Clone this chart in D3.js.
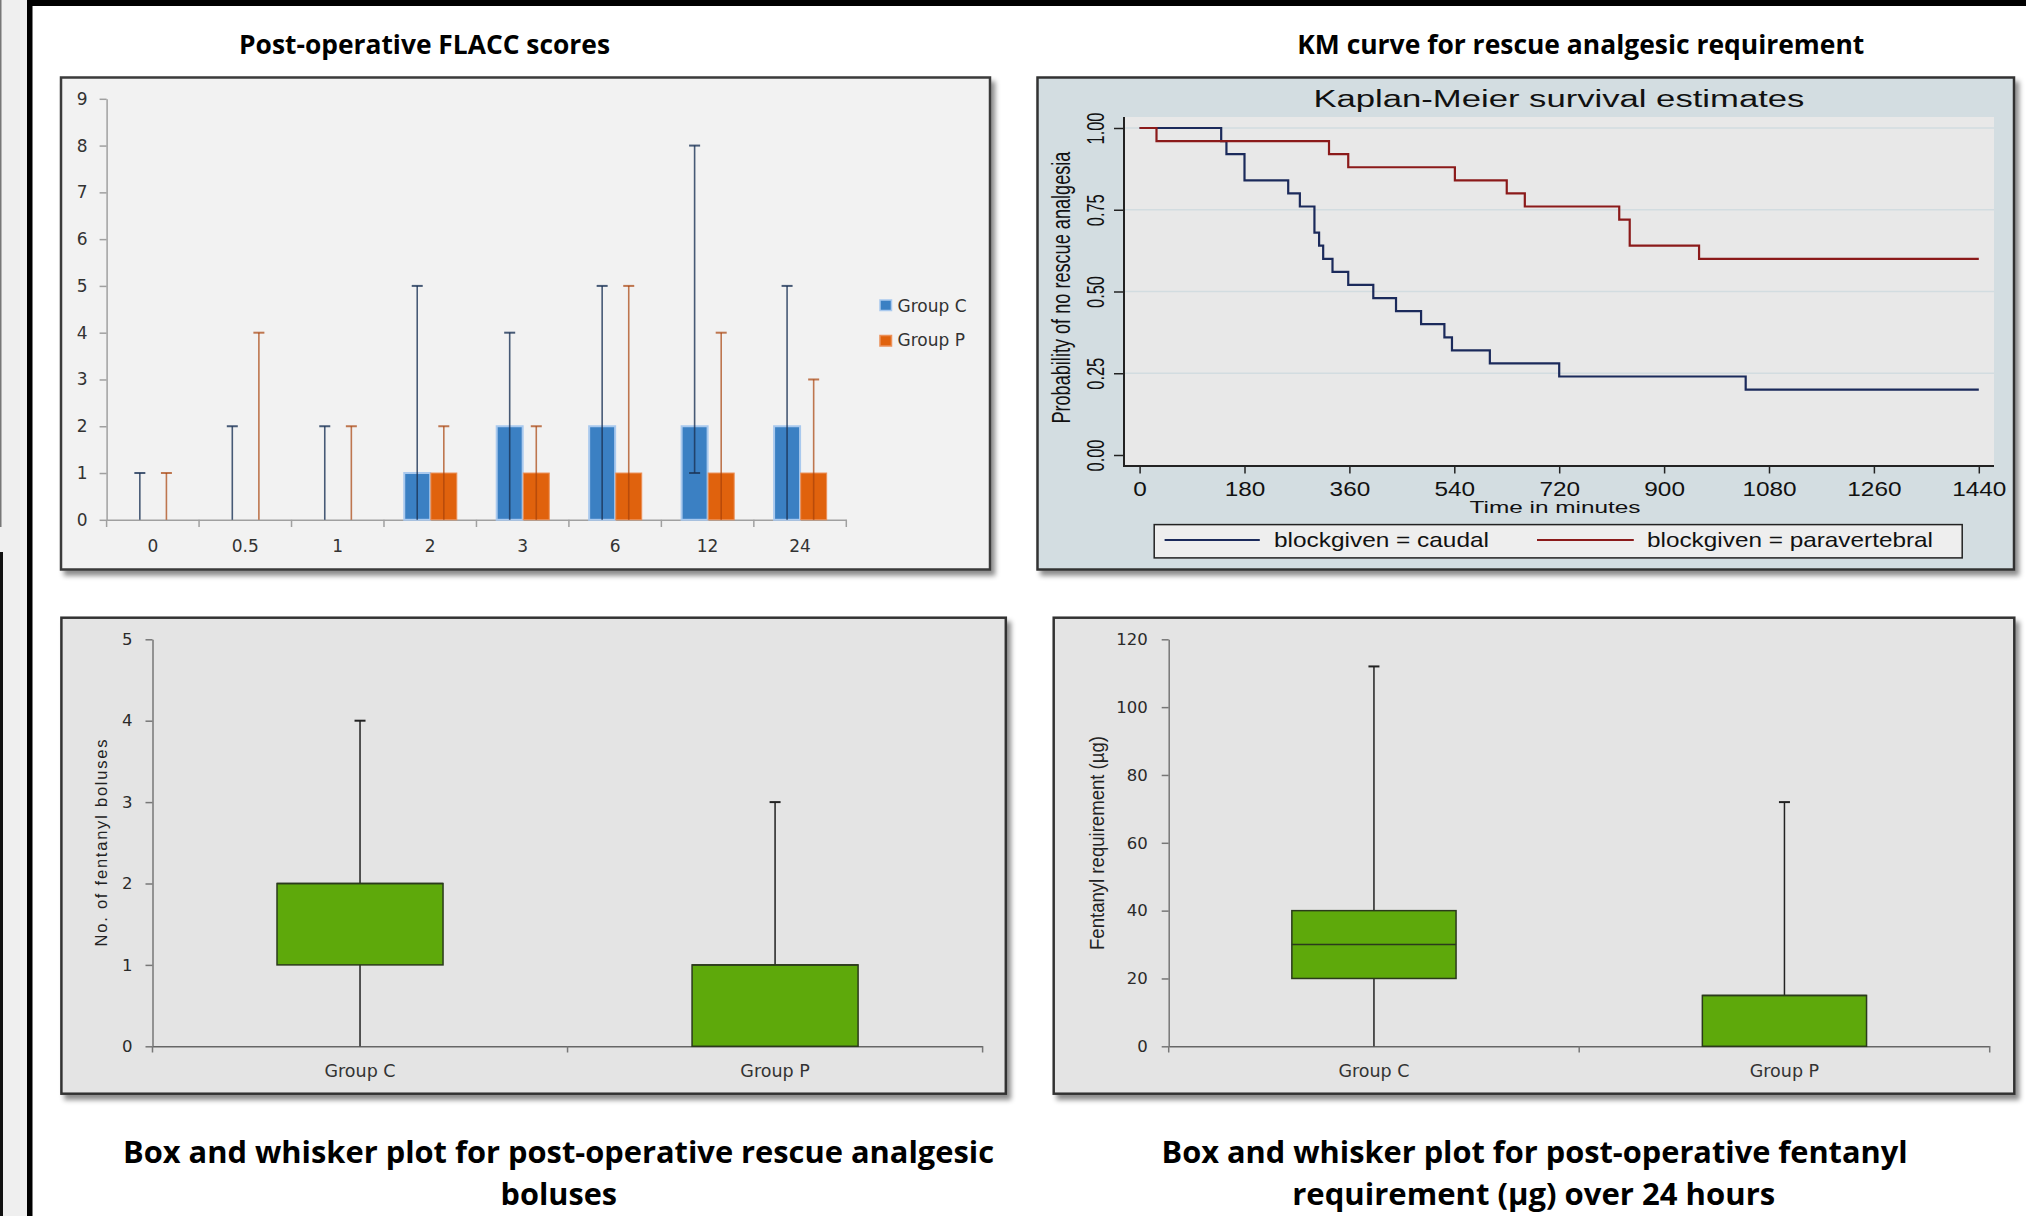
<!DOCTYPE html>
<html><head><meta charset="utf-8">
<script src="https://cdn.jsdelivr.net/npm/d3@7"></script>
<style>html,body{margin:0;padding:0;background:#fff;overflow:hidden}</style>
</head><body>
<svg id="c" width="2026" height="1216"></svg>
<script>
// ---------- DATA ----------
const flaccCats = ["0", "0.5", "1", "2", "3", "6", "12", "24"];
const flaccTicks = [0, 1, 2, 3, 4, 5, 6, 7, 8, 9];
const flaccCMedian = [0, 0, 0, 1, 2, 2, 2, 2];
const flaccCMin = [0, 0, 0, 0, 0, 0, 1, 0];
const flaccCMax = [1, 2, 2, 5, 4, 5, 8, 5];
const flaccPMedian = [0, 0, 0, 1, 1, 1, 1, 1];
const flaccPMin = [0, 0, 0, 0, 0, 0, 0, 0];
const flaccPMax = [1, 4, 2, 2, 2, 5, 4, 3];
const flaccSeries = ["Group C", "Group P"];

const kmTimeTicks = [0, 180, 360, 540, 720, 900, 1080, 1260, 1440];
const kmProbTicks = [0, 0.25, 0.5, 0.75, 1];
const caudalTime = [0, 140, 149, 180, 255, 275, 300, 308, 315, 331, 358, 401, 440, 483, 523, 536, 601, 720, 1040, 1440];
const caudalSurv = [1.00, 0.96, 0.92, 0.84, 0.80, 0.76, 0.68, 0.64, 0.60, 0.56, 0.52, 0.48, 0.44, 0.40, 0.36, 0.32, 0.28, 0.24, 0.20, 0.20];
const paraTime = [0, 29, 325, 358, 541, 630, 661, 823, 841, 960, 1440];
const paraSurv = [1.00, 0.96, 0.92, 0.88, 0.84, 0.80, 0.76, 0.72, 0.64, 0.60, 0.60];
const kmLegend = ["blockgiven = caudal", "blockgiven = paravertebral"];

const boxGroups = ["Group C", "Group P"];
const bolusTicks = [0, 1, 2, 3, 4, 5];
const bolusMin = [0, 0];
const bolusQ1 = [1, 0];
const bolusMedian = [2, 1];
const bolusQ3 = [2, 1];
const bolusMax = [4, 3];

const fentTicks = [0, 20, 40, 60, 80, 100, 120];
const fentMin = [0, 0];
const fentQ1 = [20, 0];
const fentMedian = [30, 15];
const fentQ3 = [40, 15];
const fentMax = [112, 72];

// ---------- SETUP ----------
const svg = d3.select("#c");
const defs = svg.append("defs");
const flt = defs.append("filter").attr("id", "sh").attr("x", "-3%").attr("y", "-3%").attr("width", "110%").attr("height", "112%");
flt.append("feDropShadow").attr("dx", 4).attr("dy", 5).attr("stdDeviation", 2.5).attr("flood-color", "#000").attr("flood-opacity", 0.45);

const NARROW = "'Liberation Sans Narrow','Arial Narrow','Open Sans',sans-serif";
const ARIAL = "'Liberation Sans',Arial,sans-serif";
const DEJA = "'DejaVu Sans',Verdana,sans-serif";

function fit(sel, len, mode) {
  sel.attr("textLength", len).attr("lengthAdjust", mode || "spacingAndGlyphs");
}
function scaleText(sel, k) {
  sel.each(function () {
    const w = this.getComputedTextLength();
    d3.select(this).attr("textLength", w * k).attr("lengthAdjust", "spacingAndGlyphs");
  });
}

// page decoration
svg.append("rect").attr("x", 0).attr("y", 0).attr("width", 2026).attr("height", 1216).attr("fill", "#fff");
svg.append("rect").attr("x", 0).attr("y", 0).attr("width", 27).attr("height", 1216).attr("fill", "#efefef");
svg.append("rect").attr("x", 0).attr("y", 0).attr("width", 1.5).attr("height", 527).attr("fill", "#777");
svg.append("rect").attr("x", 0).attr("y", 552).attr("width", 3).attr("height", 664).attr("fill", "#111");
svg.append("rect").attr("x", 27).attr("y", 0).attr("width", 5.5).attr("height", 1216).attr("fill", "#000");
svg.append("rect").attr("x", 27).attr("y", 0).attr("width", 1999).attr("height", 6).attr("fill", "#000");

function title(txt, cx, by, size, len) {
  const t = svg.append("text").attr("x", cx).attr("y", by).attr("text-anchor", "middle")
    .attr("font-family", NARROW).attr("font-weight", "bold").attr("font-size", size).attr("fill", "#000").text(txt);
  fit(t, len);
}

// ---------- PANEL 1: FLACC bars ----------
title("Post-operative FLACC scores", 424.5, 54.4, 27, 371);
const p1 = svg.append("g");
p1.append("rect").attr("x", 61).attr("y", 77.5).attr("width", 929).attr("height", 492)
  .attr("fill", "#f2f2f2").attr("stroke", "#3a3a3a").attr("stroke-width", 2.5).attr("filter", "url(#sh)");

const x1 = d3.scaleBand().domain(flaccCats).range([106.6, 846.3]).padding(0);
const y1 = d3.scaleLinear().domain([0, 9]).range([519.8, 98.8]);
const bw = x1.bandwidth() * 0.281;

// y axis
const ya1 = p1.append("g").attr("transform", "translate(106.6,0)")
  .call(d3.axisLeft(y1).tickValues(flaccTicks).tickFormat(d3.format("d")).tickSize(7).tickSizeOuter(0).tickPadding(12));
ya1.select(".domain").attr("stroke", "#a0a0a0").attr("stroke-width", 1.5);
ya1.selectAll(".tick line").attr("stroke", "#a0a0a0").attr("stroke-width", 1.5);
ya1.selectAll(".tick text").attr("font-family", DEJA).attr("font-size", 17).attr("fill", "#333");

// x axis
const xa1 = p1.append("g").attr("transform", "translate(0,519.8)")
  .call(d3.axisBottom(x1).tickSize(0).tickSizeOuter(0));
xa1.select(".domain").attr("stroke", "#a0a0a0").attr("stroke-width", 1.5);
xa1.selectAll(".tick text").attr("font-family", DEJA).attr("font-size", 17).attr("fill", "#333").attr("y", 32).attr("dy", 0);
const bounds = d3.range(flaccCats.length + 1).map(i => x1.range()[0] + i * x1.step());
p1.append("g").selectAll("line").data(bounds).join("line")
  .attr("x1", d => d).attr("x2", d => d).attr("y1", 519.8).attr("y2", 527)
  .attr("stroke", "#a0a0a0").attr("stroke-width", 1.5);

// bars
const cData = flaccCats.map((c, i) => ({ c, v: flaccCMedian[i], lo: flaccCMin[i], hi: flaccCMax[i] }));
const pData = flaccCats.map((c, i) => ({ c, v: flaccPMedian[i], lo: flaccPMin[i], hi: flaccPMax[i] }));
const cx = d => x1(d.c) + x1.bandwidth() / 2;

p1.append("g").selectAll("rect").data(cData.filter(d => d.v > 0)).join("rect")
  .attr("x", d => cx(d) - bw).attr("width", bw)
  .attr("y", d => y1(d.v)).attr("height", d => y1(0) - y1(d.v))
  .attr("fill", "#3b80c3").attr("stroke", "#a9c9ee").attr("stroke-width", 2);
p1.append("g").selectAll("rect").data(pData.filter(d => d.v > 0)).join("rect")
  .attr("x", d => cx(d) + 0.6).attr("width", bw)
  .attr("y", d => y1(d.v)).attr("height", d => y1(0) - y1(d.v))
  .attr("fill", "#e0620d").attr("stroke", "#ec9058").attr("stroke-width", 1);

function errBars(data, off, col, op) {
  const g = p1.append("g").attr("stroke", col).attr("stroke-opacity", op).attr("stroke-width", 1.6);
  data.forEach(d => {
    const x = cx(d) + off;
    g.append("line").attr("x1", x).attr("x2", x).attr("y1", y1(d.lo)).attr("y2", y1(d.hi));
    g.append("line").attr("x1", x - 5.5).attr("x2", x + 5.5).attr("y1", y1(d.hi)).attr("y2", y1(d.hi)).attr("stroke-width", 2);
    if (d.lo > 0) g.append("line").attr("x1", x - 5.5).attr("x2", x + 5.5).attr("y1", y1(d.lo)).attr("y2", y1(d.lo)).attr("stroke-width", 2);
  });
}
errBars(cData, -bw / 2, "#1b3356", 0.8);
errBars(pData, bw / 2 + 0.6, "#a8420a", 0.7);

// legend
const lg1 = p1.append("g");
const lgCols = ["#3b80c3", "#e0620d"];
const lgStroke = ["#a9c9ee", "#ec9058"];
flaccSeries.forEach((s, i) => {
  lg1.append("rect").attr("x", 880).attr("y", 300 + i * 35.5).attr("width", 11.5).attr("height", 10.5)
    .attr("fill", lgCols[i]).attr("stroke", lgStroke[i]).attr("stroke-width", 1.5);
  lg1.append("text").attr("x", 897.5).attr("y", 311.7 + i * 34).attr("font-family", DEJA).attr("font-size", 17)
    .attr("fill", "#333").text(s);
});

// ---------- PANEL 2: KM ----------
title("KM curve for rescue analgesic requirement", 1580.8, 54.4, 27, 567);
const p2 = svg.append("g");
p2.append("rect").attr("x", 1037.5).attr("y", 77.5).attr("width", 976.5).attr("height", 492)
  .attr("fill", "#d3dde1").attr("stroke", "#333").attr("stroke-width", 2.5).attr("filter", "url(#sh)");
const PL = 1124, PR = 1994, PT = 117, PB = 466;
p2.append("rect").attr("x", PL).attr("y", PT).attr("width", PR - PL).attr("height", PB - PT).attr("fill", "#e8e8e8");

const x2 = d3.scaleLinear().domain([0, 1440]).range([1139.6, 1978.8]);
const y2 = d3.scaleLinear().domain([0, 1]).range([455, 128]);

// gridlines
p2.append("g").selectAll("line").data(kmProbTicks.filter(d => d > 0)).join("line")
  .attr("x1", PL).attr("x2", PR).attr("y1", d => y2(d)).attr("y2", d => y2(d))
  .attr("stroke", "#d2dce0").attr("stroke-width", 1.5);

// axes
const ya2 = p2.append("g").attr("transform", `translate(${PL},0)`)
  .call(d3.axisLeft(y2).tickValues(kmProbTicks).tickFormat(d3.format(".2f")).tickSize(10).tickSizeOuter(0));
ya2.select(".domain").remove();
ya2.selectAll(".tick line").attr("stroke", "#222").attr("stroke-width", 1.5);
ya2.selectAll(".tick text").attr("font-family", ARIAL).attr("font-size", 23).attr("fill", "#111")
  .attr("x", 0).attr("dy", 0).attr("text-anchor", "middle")
  .attr("transform", "translate(-20.5,0) rotate(-90)");
fit(ya2.selectAll(".tick text"), 32);

const xa2 = p2.append("g").attr("transform", `translate(0,${PB})`)
  .call(d3.axisBottom(x2).tickValues(kmTimeTicks).tickFormat(d3.format("d")).tickSize(7.5).tickSizeOuter(0));
xa2.select(".domain").remove();
xa2.selectAll(".tick line").attr("stroke", "#222").attr("stroke-width", 1.5);
xa2.selectAll(".tick text").attr("font-family", ARIAL).attr("font-size", 19.5).attr("fill", "#111")
  .attr("y", 29.5).attr("dy", 0);
scaleText(xa2.selectAll(".tick text"), 1.25);

p2.append("line").attr("x1", PL).attr("x2", PL).attr("y1", PT).attr("y2", PB + 1).attr("stroke", "#222").attr("stroke-width", 2);
p2.append("line").attr("x1", PL - 1).attr("x2", PR).attr("y1", PB).attr("y2", PB).attr("stroke", "#222").attr("stroke-width", 2);

// titles
const kt = p2.append("text").attr("x", 1558.9).attr("y", 107.3).attr("text-anchor", "middle")
  .attr("font-family", ARIAL).attr("font-size", 23).attr("fill", "#111").text("Kaplan-Meier survival estimates");
fit(kt, 491);
const kxt = p2.append("text").attr("x", 1555).attr("y", 512.5).attr("text-anchor", "middle")
  .attr("font-family", ARIAL).attr("font-size", 17).attr("fill", "#111").text("Time in minutes");
fit(kxt, 171);
const kyt = p2.append("text").attr("text-anchor", "middle")
  .attr("transform", "translate(1069.5,287.6) rotate(-90)")
  .attr("font-family", ARIAL).attr("font-size", 26).attr("fill", "#111").text("Probability of no rescue analgesia");
fit(kyt, 272);

// curves
const line2 = d3.line().x(d => x2(d.t)).y(d => y2(d.s)).curve(d3.curveStepAfter);
const caudal = caudalTime.map((t, i) => ({ t, s: caudalSurv[i] }));
const para = paraTime.map((t, i) => ({ t, s: paraSurv[i] }));
const kmCols = ["#1b2a5b", "#8b1a1a"];
p2.append("path").datum(caudal).attr("d", line2).attr("fill", "none").attr("stroke", kmCols[0]).attr("stroke-width", 2.2);
p2.append("path").datum(para).attr("d", line2).attr("fill", "none").attr("stroke", kmCols[1]).attr("stroke-width", 2.2);

// legend
p2.append("rect").attr("x", 1154.2).attr("y", 524.6).attr("width", 808).attr("height", 33.3)
  .attr("fill", "#eeeeee").attr("stroke", "#222").attr("stroke-width", 1.5);
const lgX = [[1164.6, 1259.8, 1274, 215], [1537, 1633.8, 1647, 286]];
kmLegend.forEach((s, i) => {
  p2.append("line").attr("x1", lgX[i][0]).attr("x2", lgX[i][1]).attr("y1", 540).attr("y2", 540)
    .attr("stroke", kmCols[i]).attr("stroke-width", 2);
  const t = p2.append("text").attr("x", lgX[i][2]).attr("y", 547).attr("font-family", ARIAL)
    .attr("font-size", 21).attr("fill", "#111").text(s);
  fit(t, lgX[i][3]);
});

// ---------- BOX PLOTS ----------
function boxPanel(o) {
  const g = svg.append("g");
  g.append("rect").attr("x", o.fx).attr("y", 617.7).attr("width", o.fw).attr("height", 476)
    .attr("fill", "#e4e4e4").attr("stroke", "#333").attr("stroke-width", 2.5).attr("filter", "url(#sh)");
  const x = d3.scaleBand().domain(boxGroups).range([o.x0, o.x1]);
  const y = d3.scaleLinear().domain([0, o.ymax]).range([1046.3, 639.3]);
  const ya = g.append("g").attr("transform", `translate(${o.x0},0)`)
    .call(d3.axisLeft(y).tickValues(o.ticks).tickFormat(d3.format("d")).tickSize(7).tickSizeOuter(0).tickPadding(o.pad));
  ya.select(".domain").attr("stroke", "#777").attr("stroke-width", 1.5);
  ya.selectAll(".tick line").attr("stroke", "#777").attr("stroke-width", 1.5);
  ya.selectAll(".tick text").attr("font-family", DEJA).attr("font-size", 16.5).attr("fill", "#2a2a2a");
  const xa = g.append("g").attr("transform", "translate(0,1046.3)")
    .call(d3.axisBottom(x).tickSize(0).tickSizeOuter(0));
  xa.select(".domain").attr("stroke", "#666").attr("stroke-width", 1.5);
  xa.selectAll(".tick text").attr("font-family", DEJA).attr("font-size", 17.5).attr("fill", "#333").attr("y", 31).attr("dy", 0);
  const bds = d3.range(boxGroups.length + 1).map(i => x.range()[0] + i * x.step());
  g.append("g").selectAll("line").data(bds).join("line")
    .attr("x1", d => d).attr("x2", d => d).attr("y1", 1046.3).attr("y2", 1052.5)
    .attr("stroke", "#777").attr("stroke-width", 1.5);

  const bwid = x.bandwidth() * 0.4;
  boxGroups.forEach((gr, i) => {
    const c = x(gr) + x.bandwidth() / 2;
    g.append("line").attr("x1", c).attr("x2", c).attr("y1", y(o.min[i])).attr("y2", y(o.max[i]))
      .attr("stroke", "#222").attr("stroke-width", 1.5);
    g.append("line").attr("x1", c - 5.5).attr("x2", c + 5.5).attr("y1", y(o.max[i])).attr("y2", y(o.max[i]))
      .attr("stroke", "#222").attr("stroke-width", 2);
    g.append("rect").attr("x", c - bwid / 2).attr("width", bwid)
      .attr("y", y(o.q3[i])).attr("height", y(o.q1[i]) - y(o.q3[i]))
      .attr("fill", "#5ea90b").attr("stroke", "#2b3a1c").attr("stroke-width", 1.5);
    g.append("line").attr("x1", c - bwid / 2).attr("x2", c + bwid / 2).attr("y1", y(o.med[i])).attr("y2", y(o.med[i]))
      .attr("stroke", "#2b3a1c").attr("stroke-width", 1.5);
  });
  const yt = g.append("text").attr("text-anchor", "middle")
    .attr("transform", `translate(${o.ytx},843) rotate(-90)`)
    .attr("font-family", ARIAL).attr("font-size", o.yts).attr("fill", "#222").text(o.ytitle);
  fit(yt, o.ytlen, o.ytmode);
  o.cap.forEach((c, i) => {
    const t = svg.append("text").attr("x", c.cx).attr("y", 1162.6 + i * 42.4).attr("text-anchor", "middle")
      .attr("font-family", NARROW).attr("font-weight", "bold").attr("font-size", 31).attr("fill", "#000").text(c.t);
    fit(t, c.len);
  });
}

boxPanel({
  fx: 61.4, fw: 944.4, x0: 152.5, x1: 982.6, ymax: 5, ticks: bolusTicks, pad: 13,
  min: bolusMin, q1: bolusQ1, med: bolusMedian, q3: bolusQ3, max: bolusMax,
  ytitle: "No. of fentanyl boluses", ytx: 107.4, yts: 16.5, ytlen: 207, ytmode: "spacing",
  cap: [{ t: "Box and whisker plot for post-operative rescue analgesic", cx: 558.5, len: 871 },
        { t: "boluses", cx: 558.8, len: 116.4 }]
});
boxPanel({
  fx: 1053.7, fw: 960.6, x0: 1168.7, x1: 1989.7, ymax: 120, ticks: fentTicks, pad: 14,
  min: fentMin, q1: fentQ1, med: fentMedian, q3: fentQ3, max: fentMax,
  ytitle: "Fentanyl requirement (µg)", ytx: 1104.4, yts: 20, ytlen: 214, ytmode: "spacingAndGlyphs",
  cap: [{ t: "Box and whisker plot for post-operative fentanyl", cx: 1534.6, len: 746 },
        { t: "requirement (µg) over 24 hours", cx: 1533.7, len: 483 }]
});
</script>
</body></html>
